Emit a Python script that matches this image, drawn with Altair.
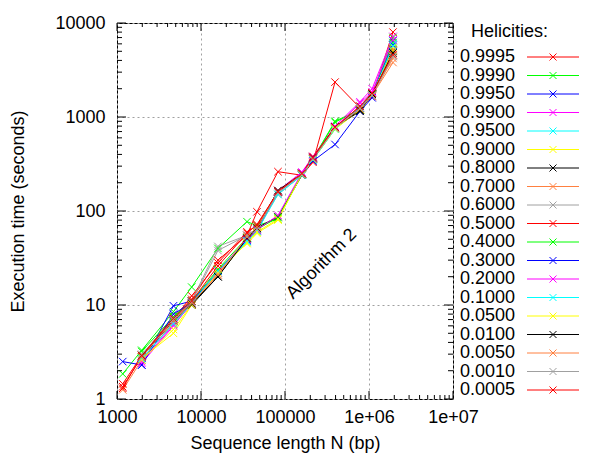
import altair as alt
import pandas as pd

FONT = "Liberation Sans"

# ---- data -------------------------------------------------------------
helicities = ["0.9995", "0.9990", "0.9950", "0.9900", "0.9500", "0.9000", "0.8000",
              "0.7000", "0.6000", "0.5000", "0.4000", "0.3000", "0.2000", "0.1000",
              "0.0500", "0.0100", "0.0050", "0.0010", "0.0005"]
palette = ["#ff0000", "#00ff00", "#0000ff", "#ff00ff", "#00ffff", "#ffff00", "#000000",
           "#ff8040", "#a0a0a0", "#ff0000", "#00ff00", "#0000ff", "#ff00ff", "#00ffff",
           "#ffff00", "#000000", "#ff8040", "#a0a0a0", "#ff0000"]

seq_len = [1170, 1970, 4700, 7750, 15900, 35300, 46400, 82500, 159000, 215000,
           394000, 781000, 1090000, 1930000]

t_9995 = [1.45, 2.9, 7.5, 11.5, 30, 55, 98, 262, 240, 330, 2350, 1250, 1650, 8000]
t_9990 = [1.85, 3.3, 8.5, 15.5, 40, 77, 70, 82, 250, 360, 900, 1200, 1700, 7000]
t_9950 = [2.5, 2.3, 9.8, 11, 22, 48, 65, 160, 245, 340, 510, 1150, 1600, 6500]
t_9900 = [None, 2.4, 6.0, 10.5, 23, 50, 62, 165, 260, 380, 800, 1450, 2000, 7200]
t_9500 = [None, 2.6, 6.5, 10.2, 22, 47, 60, 160, 245, 360, 750, 1300, 1800, 6000]
t_9000 = [None, 2.7, 5.0, 10, 24, 45, 58, 80, 250, 350, 740, 1200, 1750, 5500]
t_8000 = [None, 2.8, 6.8, 10, 20, 52, 66, 87, 240, 370, 780, 1150, 1750, 5000]
t_7000 = [1.25, 2.6, 6.6, 10.3, 21, 50, 64, 165, 250, 360, 760, 1200, 1700, 3800]
t_6000 = [None, 2.9, 7.2, 11, 42, 55, 65, 150, 240, 350, 750, 1250, 1700, 4500]
t_5000 = [1.35, 2.8, 7.0, 12.5, 28, 60, 70, 160, 250, 380, 770, 1300, 1800, 5200]
t_4000 = [None, 3.2, 7.5, 11, 24, 52, 64, 85, 245, 355, 880, 1200, 1750, 6200]
t_3000 = [None, 2.3, 8.0, 10.6, 23, 49, 62, 160, 250, 370, 760, 1250, 1750, 5800]
t_2000 = [None, 2.5, 6.2, 10.2, 22, 50, 63, 90, 255, 365, 770, 1400, 1850, 6600]
t_1000 = [None, 2.7, 6.3, 10.4, 23, 48, 61, 150, 240, 350, 740, 1250, 1700, 5700]
t_0500 = [None, 2.6, 5.5, 10.1, 22, 46, 60, 82, 245, 355, 750, 1200, 1750, 5100]
t_0100 = [None, 2.9, 7.1, 10.3, 20, 51, 66, 165, 250, 360, 780, 1180, 1750, 4800]
t_0050 = [None, 2.8, 6.9, 10.5, 21, 53, 67, 160, 250, 360, 770, 1220, 1700, 4200]
t_0010 = [None, 3.0, 7.0, 10.8, 38, 55, 64, 155, 245, 355, 760, 1250, 1700, 4400]
t_0005 = [1.3, 2.9, 7.2, 11, 26, 58, 72, 160, 250, 370, 780, 1300, 1800, 4600]

series = [t_9995, t_9990, t_9950, t_9900, t_9500, t_9000, t_8000, t_7000, t_6000,
          t_5000, t_4000, t_3000, t_2000, t_1000, t_0500, t_0100, t_0050, t_0010, t_0005]

x_ticks = [1000, 10000, 100000, 1000000, 10000000]
x_tick_labels = ["1000", "10000", "100000", "1e+06", "1e+07"]
y_ticks = [1, 10, 100, 1000, 10000]
y_tick_labels = ["1", "10", "100", "1000", "10000"]

annotation = "Algorithm 2"
ann_N = 273000
ann_time = 27.3

# ---- frames -----------------------------------------------------------
rows = []
for order, (h, vals) in enumerate(zip(helicities, series)):
    for n, t in zip(seq_len, vals):
        if t is not None:
            rows.append({"helicity": h, "order": order, "N": n, "time": t})
df = pd.DataFrame(rows)

x_minor = [k * d for d in x_ticks[:-1] for k in range(2, 10)]
y_minor = [k * d for d in y_ticks[:-1] for k in range(2, 10)]
xmaj_df = pd.DataFrame({"N": x_ticks})
xmin_df = pd.DataFrame({"N": x_minor})
ymaj_df = pd.DataFrame({"time": y_ticks})
ymin_df = pd.DataFrame({"time": y_minor})


def label_expr(values, labels):
    expr = "''"
    for v, lab in reversed(list(zip(values, labels))):
        expr = f"datum.value == {v} ? '{lab}' : ({expr})"
    return expr


W, H = 336, 376
xs = alt.Scale(type="log", domain=[x_ticks[0], x_ticks[-1]], nice=False)
ys = alt.Scale(type="log", domain=[y_ticks[0], y_ticks[-1]], nice=False)
cs = alt.Scale(domain=helicities, range=palette)

x_axis = alt.Axis(values=x_ticks, labelExpr=label_expr(x_ticks, x_tick_labels),
                  title="Sequence length N (bp)", grid=True, gridDash=[2, 3],
                  gridColor="#a0a0a0", gridWidth=1, ticks=False, domain=False,
                  labelFontSize=18, labelFont=FONT, labelColor="black", labelPadding=9,
                  titleFontSize=18, titleFont=FONT, titleFontWeight="normal",
                  titleColor="black", titlePadding=8, labelFlush=False)
y_axis = alt.Axis(values=y_ticks, labelExpr=label_expr(y_ticks, y_tick_labels),
                  title="Execution time (seconds)", grid=True, gridDash=[2, 3],
                  gridColor="#a0a0a0", gridWidth=1, ticks=False, domain=False,
                  labelFontSize=18, labelFont=FONT, labelColor="black", labelPadding=12,
                  titleFontSize=18, titleFont=FONT, titleFontWeight="normal",
                  titleColor="black", titlePadding=27, labelFlush=False)

XPATH = "M-1,-1L1,1M-1,1L1,-1"

base = alt.Chart(df).encode(
    x=alt.X("N:Q", scale=xs, axis=x_axis),
    y=alt.Y("time:Q", scale=ys, axis=y_axis),
    color=alt.Color("helicity:N", scale=cs, legend=None),
    detail="order:N",
)
lines = base.mark_line(strokeWidth=1).encode(order=alt.Order("N:Q"))
points = base.mark_point(shape=XPATH, filled=False, size=56, strokeWidth=1, opacity=1)

tick_layers = []
for d, ln in ((xmaj_df, 8), (xmin_df, 4)):
    tick_layers.append(alt.Chart(d).mark_rule(color="black", strokeWidth=1).encode(
        x="N:Q", y=alt.value(0), y2=alt.value(ln)))
    tick_layers.append(alt.Chart(d).mark_rule(color="black", strokeWidth=1).encode(
        x="N:Q", y=alt.value(H), y2=alt.value(H - ln)))
for d, ln in ((ymaj_df, 9), (ymin_df, 5)):
    tick_layers.append(alt.Chart(d).mark_rule(color="black", strokeWidth=1).encode(
        y="time:Q", x=alt.value(0), x2=alt.value(ln)))
    tick_layers.append(alt.Chart(d).mark_rule(color="black", strokeWidth=1).encode(
        y="time:Q", x=alt.value(W), x2=alt.value(W - ln)))

ann = alt.Chart(pd.DataFrame({"N": [ann_N], "time": [ann_time], "t": [annotation]})).mark_text(
    angle=315, fontSize=18, font=FONT, align="center", baseline="middle", color="black"
).encode(x="N:Q", y="time:Q", text="t:N")

main = alt.layer(lines, points, ann, *tick_layers).properties(
    width=W, height=H, view=alt.ViewBackground(stroke="black", strokeWidth=1))

# ---- legend panel -------------------------------------------------------
leg_df = pd.DataFrame({"helicity": helicities})
leg_base = alt.Chart(leg_df).encode(
    y=alt.Y("helicity:N", sort=helicities,
            scale=alt.Scale(type="point", range=[34, 367], padding=0), axis=None))
leg_text = leg_base.mark_text(align="left", baseline="middle", fontSize=18, font=FONT,
                              color="black").encode(x=alt.value(2), text="helicity:N")
leg_rule = leg_base.mark_rule(strokeWidth=1).encode(
    x=alt.value(69), x2=alt.value(121),
    color=alt.Color("helicity:N", scale=cs, legend=None))
leg_pt = leg_base.mark_point(shape=XPATH, filled=False, size=49, strokeWidth=1, opacity=1).encode(
    x=alt.value(95), color=alt.Color("helicity:N", scale=cs, legend=None))
leg_title = alt.Chart(pd.DataFrame({"t": ["Helicities:"]})).mark_text(
    align="left", baseline="middle", fontSize=18, font=FONT, color="black"
).encode(x=alt.value(13), y=alt.value(9), text="t:N")

legend = alt.layer(leg_title, leg_rule, leg_pt, leg_text).properties(
    width=125, height=H, view=alt.ViewBackground(stroke="transparent", strokeWidth=0))

chart = alt.hconcat(main, legend, spacing=5, bounds="flush").properties(
    padding={"left": 1, "top": 5, "right": 0, "bottom": 0}
).configure_view(stroke="transparent").configure(font=FONT)

chart.save("out.html", embed_options={"renderer": "svg", "actions": False})
